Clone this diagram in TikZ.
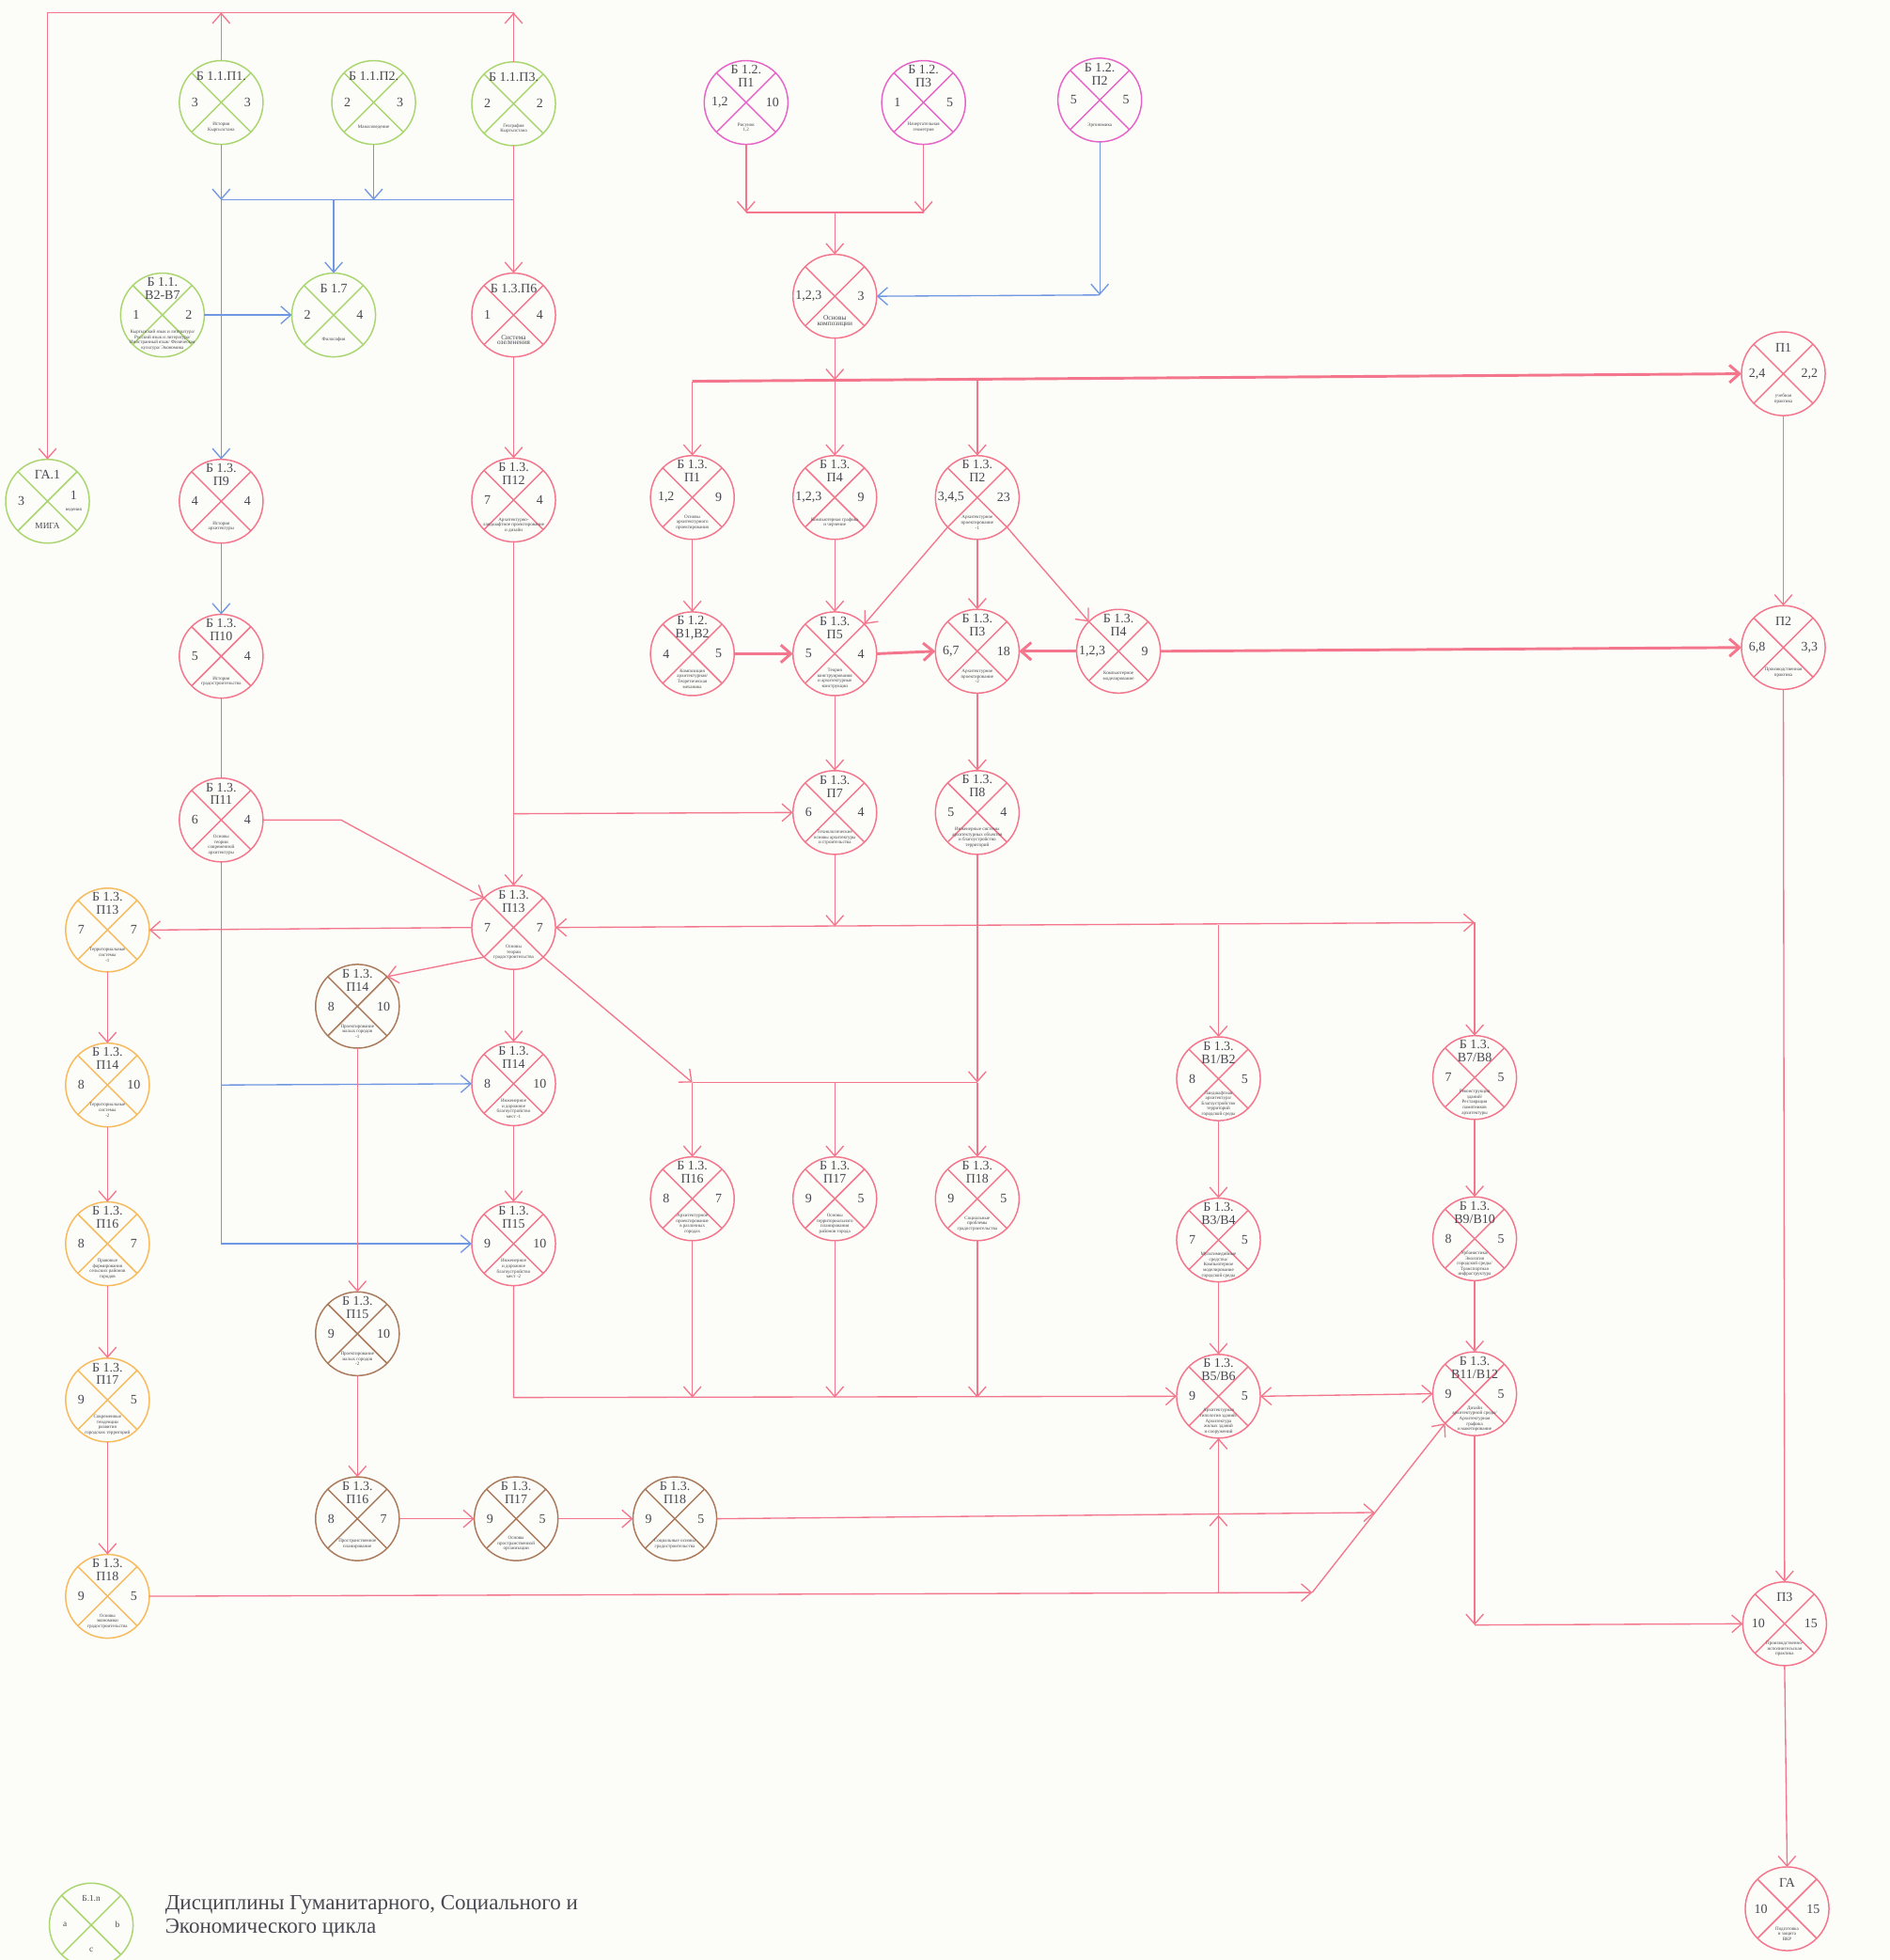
\documentclass[tikz,border=0pt]{standalone}
\usepackage{fontspec}
\setmainfont{Liberation Serif}
\usetikzlibrary{arrows.meta}

\definecolor{grn}{RGB}{170,214,112}
\definecolor{rd}{RGB}{243,118,140}
\definecolor{mag}{RGB}{230,100,200}
\definecolor{org}{RGB}{247,186,92}
\definecolor{brn}{RGB}{170,122,92}
\definecolor{blu}{RGB}{112,152,226}
\definecolor{txt}{RGB}{72,72,82}
\definecolor{paper}{RGB}{252,252,248}

% one discipline: name, x, y, colour, code, left, right, title
\newcommand{\disc}[8]{%
  \node[disc,draw=#4] (#1) at (#2,#3) {};
  \draw[#4,line width=1.1pt] (#1.north west) -- (#1.south east) (#1.north east) -- (#1.south west);
  \node[toptext] at ([yshift=21pt]#1.center) {#5};
  \node[numtext] at ([xshift=-21pt]#1.center) {#6};
  \node[numtext] at ([xshift=21pt]#1.center) {#7};
  \node[subtext] at ([yshift=-20pt]#1.center) {#8};
}

\begin{document}
\begin{tikzpicture}[x=1pt,y=-1pt]
  \tikzset{
    >={Straight Barb[length=8pt,width=14pt]},
    disc/.style={circle,minimum size=67pt,inner sep=0pt,outer sep=0pt,line width=1.1pt,fill=paper},
    toptext/.style={text=txt,font=\fontsize{10.5}{10.5}\selectfont,align=center,inner sep=0pt},
    numtext/.style={text=txt,font=\fontsize{10.5}{11}\selectfont,align=center,inner sep=0pt},
    subtext/.style={text=txt,font=\fontsize{3.8}{4.2}\selectfont,align=center,inner sep=0pt},
    redarr/.style={rd,line width=1pt,->},
    redln/.style={rd,line width=1pt},
    thickarr/.style={rd,line width=2.2pt,->},
    bluarr/.style={blu,line width=1pt,->},
    bluln/.style={blu,line width=1pt}
  }
  \fill[paper] (0,0) rectangle (1512,1568);
  \useasboundingbox (0,0) rectangle (1512,1568);

  % humanities
  \disc{hp1}{177}{82}{grn}{Б 1.1.П1.}{3}{3}{История\\Кыргызстана}
  \disc{hp2}{299}{82}{grn}{Б 1.1.П2.}{2}{3}{Манасоведение}
  \disc{hp3}{411}{83}{grn}{Б 1.1.П3.}{2}{2}{География\\Кыргызстана}
  \disc{hv}{130}{252}{grn}{Б 1.1.\\В2-В7}{1}{2}{Кыргызский язык и литература/\\Русский язык и литература/\\Иностранный язык/ Физическая\\культура/ Экономика}
  \disc{hf}{267}{252}{grn}{Б 1.7}{2}{4}{Философия}
  \disc{ga1}{38}{401}{grn}{ГА.1}{3}{1\\[-2pt]{\fontsize{3.8}{4}\selectfont ведения}}{{\fontsize{7}{8}\selectfont МИГА}}

  % basic
  \disc{ap1}{597}{82}{mag}{Б 1.2.\\П1}{1,2}{10}{Рисунок\\1,2}
  \disc{ap3}{739}{82}{mag}{Б 1.2.\\П3}{1}{5}{Начертательная\\геометрия}
  \disc{ap2}{880}{80}{mag}{Б 1.2.\\П2}{5}{5}{Эргономика}
  \disc{comp}{668}{237}{rd}{}{1,2,3}{3}{{\fontsize{5.5}{6}\selectfont Основы}\\{\fontsize{5.5}{6}\selectfont композиции}}

  % professional
  \disc{p6}{411}{252}{rd}{Б 1.3.П6}{1}{4}{{\fontsize{5.5}{6}\selectfont Система}\\{\fontsize{5.5}{6}\selectfont озеленения}}
  \disc{up1}{1427}{299}{rd}{П1}{2,4}{2,2}{учебная\\практика}
  \disc{p9}{177}{401}{rd}{Б 1.3.\\П9}{4}{4}{История\\архитектуры}
  \disc{p12}{411}{400}{rd}{Б 1.3.\\П12}{7}{4}{Архитектурно-\\ландшафтное проектирование\\и дизайн}
  \disc{p1}{554}{398}{rd}{Б 1.3.\\П1}{1,2}{9}{Основы\\архитектурного\\проектирования}
  \disc{p4}{668}{398}{rd}{Б 1.3.\\П4}{1,2,3}{9}{Компьютерная графика\\и черчение}
  \disc{p2}{782}{398}{rd}{Б 1.3.\\П2}{3,4,5}{23}{Архитектурное\\проектирование\\-1}
  \disc{p10}{177}{525}{rd}{Б 1.3.\\П10}{5}{4}{История\\градостроительства}
  \disc{v12}{554}{523}{rd}{Б 1.2.\\В1,В2}{4}{5}{Композиция\\архитектурная/\\Теоретическая\\механика}
  \disc{p5}{668}{523}{rd}{Б 1.3.\\П5}{5}{4}{Теория\\конструирования\\и архитектурные\\конструкции}
  \disc{p3}{782}{521}{rd}{Б 1.3.\\П3}{6,7}{18}{Архитектурное\\проектирование\\-2}
  \disc{p4b}{895}{521}{rd}{Б 1.3.\\П4}{1,2,3}{9}{Компьютерное\\моделирование}
  \disc{up2}{1427}{518}{rd}{П2}{6,8}{3,3}{Производственная\\практика}
  \disc{p11}{177}{656}{rd}{Б 1.3.\\П11}{6}{4}{Основы\\теории\\современной\\архитектуры}
  \disc{p7}{668}{650}{rd}{Б 1.3.\\П7}{6}{4}{Технологические\\основы архитектуры\\и строительства}
  \disc{p8}{782}{650}{rd}{Б 1.3.\\П8}{5}{4}{Инженерные системы\\архитектурных объектов\\и благоустройство\\территорий}
  \disc{p13}{411}{742}{rd}{Б 1.3.\\П13}{7}{7}{Основы\\теории\\градостроительства}
  \disc{p14}{411}{867}{rd}{Б 1.3.\\П14}{8}{10}{Инженерное\\и дорожное\\благоустройство\\мест -1}
  \disc{p15}{411}{995}{rd}{Б 1.3.\\П15}{9}{10}{Инженерное\\и дорожное\\благоустройство\\мест -2}
  \disc{p16}{554}{959}{rd}{Б 1.3.\\П16}{8}{7}{Архитектурное\\проектирование\\в различных\\городах}
  \disc{p17}{668}{959}{rd}{Б 1.3.\\П17}{9}{5}{Основы\\территориального\\планирования\\районов города}
  \disc{p18}{782}{959}{rd}{Б 1.3.\\П18}{9}{5}{Социальные\\проблемы\\градостроительства}
  \disc{v1}{975}{863}{rd}{Б 1.3.\\В1/В2}{8}{5}{Ландшафтная\\архитектура/\\Благоустройство\\территорий\\городской среды}
  \disc{v7}{1180}{862}{rd}{Б 1.3.\\В7/В8}{7}{5}{Реконструкция\\зданий/\\Реставрация\\памятников\\архитектуры}
  \disc{v3}{975}{992}{rd}{Б 1.3.\\В3/В4}{7}{5}{Мультимедийные\\средства/\\Компьютерное\\моделирование\\городской среды}
  \disc{v9}{1180}{991}{rd}{Б 1.3.\\В9/В10}{8}{5}{Урбанистика/\\Экология\\городской среды/\\Транспортная\\инфраструктура}
  \disc{v5}{975}{1117}{rd}{Б 1.3.\\В5/В6}{9}{5}{Архитектурная\\типология зданий/\\Архитектура\\жилых зданий\\и сооружений}
  \disc{v11}{1180}{1115}{rd}{Б 1.3.\\В11/В12}{9}{5}{Дизайн\\архитектурной среды/\\Архитектурная\\графика\\и макетирование}
  \disc{up3}{1428}{1299}{rd}{П3}{10}{15}{Производственно-\\исполнительская\\практика}
  \disc{ga}{1430}{1527}{rd}{ГА}{10}{15}{Подготовка\\и защита\\ВКР}

  % territorial
  \disc{o13}{86}{744}{org}{Б 1.3.\\П13}{7}{7}{Территориальные\\системы\\-1}
  \disc{o14}{86}{868}{org}{Б 1.3.\\П14}{8}{10}{Территориальные\\системы\\-2}
  \disc{o16}{86}{995}{org}{Б 1.3.\\П16}{8}{7}{Правовые\\формирования\\сельских районов\\городов}
  \disc{o17}{86}{1120}{org}{Б 1.3.\\П17}{9}{5}{Современные\\тенденции\\развития\\городских территорий}
  \disc{o18}{86}{1277}{org}{Б 1.3.\\П18}{9}{5}{Основы\\экономики\\градостроительства}

  % urban design
  \disc{w14}{286}{805}{brn}{Б 1.3.\\П14}{8}{10}{Проектирование\\малых городов\\-1}
  \disc{w15}{286}{1067}{brn}{Б 1.3.\\П15}{9}{10}{Проектирование\\малых городов\\-2}
  \disc{w16}{286}{1215}{brn}{Б 1.3.\\П16}{8}{7}{Пространственное\\планирование}
  \disc{w17}{413}{1215}{brn}{Б 1.3.\\П17}{9}{5}{Основы\\пространственной\\организации}
  \disc{w18}{540}{1215}{brn}{Б 1.3.\\П18}{9}{5}{Социальные основы\\градостроительства}

  % legend
  \disc{key}{73}{1540}{grn}{{\fontsize{7}{8}\selectfont Б.1.n}}{{\fontsize{7}{8}\selectfont a}}{{\fontsize{7}{8}\selectfont b}}{{\fontsize{7}{8}\selectfont c}}
  \node[anchor=north west,align=left,text=txt,inner sep=0pt,font=\fontsize{17.3}{19}\selectfont] (legend) at (132,1516)
    {Дисциплины Гуманитарного, Социального и\\Экономического цикла};

  % top loop to ГА.1
  \coordinate (tl) at (38,10);
  \coordinate (t1) at (177,10);
  \coordinate (t3) at (411,10);
  \draw[redarr] (hp1.north) -- (t1);
  \draw[redarr] (hp3.north) -- (t3);
  \draw[redarr] (t3) -- (tl) -- (ga1.north);

  % humanities bus
  \coordinate (b1) at (177,160);
  \coordinate (b2) at (299,160);
  \coordinate (b7) at (267,160);
  \coordinate (b3) at (411,160);
  \draw[bluarr] (hp1.south) -- (b1);
  \draw[bluarr] (hp2.south) -- (b2);
  \draw[bluln] (b1) -- (b3);
  \draw[bluarr] (b7) -- (hf.north);
  \draw[bluarr] (b1) -- (p9.north);
  \draw[bluarr] (hv.east) -- (hf.west);
  \draw[redarr] (hp3.south) -- (p6.north);
  \draw[redarr] (p6.south) -- (p12.north);

  % composition
  \coordinate (m1) at (597,170);
  \coordinate (m3) at (739,170);
  \coordinate (mc) at (668,170);
  \coordinate (e2) at (880,236);
  \draw[redarr] (ap1.south) -- (m1);
  \draw[redarr] (ap3.south) -- (m3);
  \draw[redln] (m1) -- (m3);
  \draw[redarr] (mc) -- (comp.north);
  \draw[bluarr] (ap2.south) -- (e2);
  \draw[bluarr] (e2) -- (comp.east);

  % main bus
  \coordinate (s1) at (554,305);
  \coordinate (s2) at (668,304);
  \coordinate (s3) at (782,303);
  \draw[redarr] (comp.south) -- (s2);
  \draw[thickarr] (s1) -- (up1.west);
  \draw[redarr] (s1) -- (p1.north);
  \draw[redarr] (s2) -- (p4.north);
  \draw[redarr] (s3) -- (p2.north);

  \draw[redarr] (p1.south) -- (v12.north);
  \draw[redarr] (p4.south) -- (p5.north);
  \draw[redarr] (p2.south west) -- (p5.north east);
  \draw[redarr] (p2.south) -- (p3.north);
  \draw[redarr] (p2.south east) -- (p4b.north west);
  \draw[thickarr] (v12.east) -- (p5.west);
  \draw[thickarr] (p5.east) -- (p3.west);
  \draw[thickarr] (p4b.west) -- (p3.east);
  \draw[thickarr] (p4b.east) -- (up2.west);
  \draw[redarr] (up1.south) -- (up2.north);
  \draw[redarr] (up2.south) -- (up3.north);
  \draw[redarr] (up3.south) -- (ga.north);
  \draw[redarr] (p5.south) -- (p7.north);
  \draw[redarr] (p3.south) -- (p8.north);
  \draw[bluarr] (p9.south) -- (p10.north);
  \draw[bluln] (p10.south) -- (p11.north);

  % into П13
  \coordinate (k1) at (273,656);
  \coordinate (k2) at (411,651);
  \draw[redarr] (p11.east) -- (k1) -- (p13.north west);
  \draw[redarr] (p12.south) -- (p13.north);
  \draw[redarr] (k2) -- (p7.west);

  \coordinate (h7) at (668,741);
  \coordinate (hv1) at (975,740);
  \coordinate (hv7) at (1180,738);
  \draw[redarr] (p7.south) -- (h7);
  \draw[rd,line width=1pt,<->] (p13.east) -- (hv7);
  \draw[redarr] (hv1) -- (v1.north);
  \draw[redarr] (hv7) -- (v7.north);

  \coordinate (g1) at (554,866);
  \coordinate (g2) at (668,866);
  \coordinate (g3) at (782,866);
  \draw[redarr] (p8.south) -- (g3);
  \draw[redarr] (p13.south east) -- (g1);
  \draw[redln] (g1) -- (g3);
  \draw[redarr] (g1) -- (p16.north);
  \draw[redarr] (g2) -- (p17.north);
  \draw[redarr] (g3) -- (p18.north);

  \draw[redarr] (p13.west) -- (o13.east);
  \draw[redarr] (p13.south west) -- (w14.north east);
  \draw[redarr] (p13.south) -- (p14.north);
  \draw[redarr] (p14.south) -- (p15.north);

  \coordinate (l1) at (177,868);
  \coordinate (l2) at (177,995);
  \draw[bluln] (p11.south) -- (l2);
  \draw[bluarr] (l1) -- (p14.west);
  \draw[bluarr] (l2) -- (p15.west);

  % territorial chain
  \draw[redarr] (o13.south) -- (o14.north);
  \draw[redarr] (o14.south) -- (o16.north);
  \draw[redarr] (o16.south) -- (o17.north);
  \draw[redarr] (o17.south) -- (o18.north);

  % urban design chain
  \draw[redarr] (w14.south) -- (w15.north);
  \draw[redarr] (w15.south) -- (w16.north);
  \draw[redarr] (w16.east) -- (w17.west);
  \draw[redarr] (w17.east) -- (w18.west);

  \coordinate (n1) at (1100,1210);
  \coordinate (n2) at (1050,1274);
  \coordinate (n3) at (975,1274);
  \coordinate (n4) at (975,1212);
  \draw[redarr] (w18.east) -- (n1);
  \draw[redarr] (o18.east) -- (n2);
  \draw[redarr] (n2) -- (v11.south west);
  \draw[redarr] (n3) -- (n4);
  \draw[redarr] (n4) -- (v5.south);

  % bottom bus
  \coordinate (q0) at (411,1118);
  \coordinate (q1) at (554,1118);
  \coordinate (q2) at (668,1118);
  \coordinate (q3) at (782,1118);
  \draw[redarr] (p15.south) -- (q0) -- (v5.west);
  \draw[redarr] (p16.south) -- (q1);
  \draw[redarr] (p17.south) -- (q2);
  \draw[redarr] (p18.south) -- (q3);

  % electives
  \draw[redarr] (v1.south) -- (v3.north);
  \draw[redarr] (v3.south) -- (v5.north);
  \draw[redarr] (v7.south) -- (v9.north);
  \draw[redarr] (v9.south) -- (v11.north);
  \draw[rd,line width=1pt,<->] (v5.east) -- (v11.west);
  \coordinate (r1) at (1180,1300);
  \draw[redarr] (v11.south) -- (r1);
  \draw[redarr] (r1) -- (up3.west);
\end{tikzpicture}
\end{document}
